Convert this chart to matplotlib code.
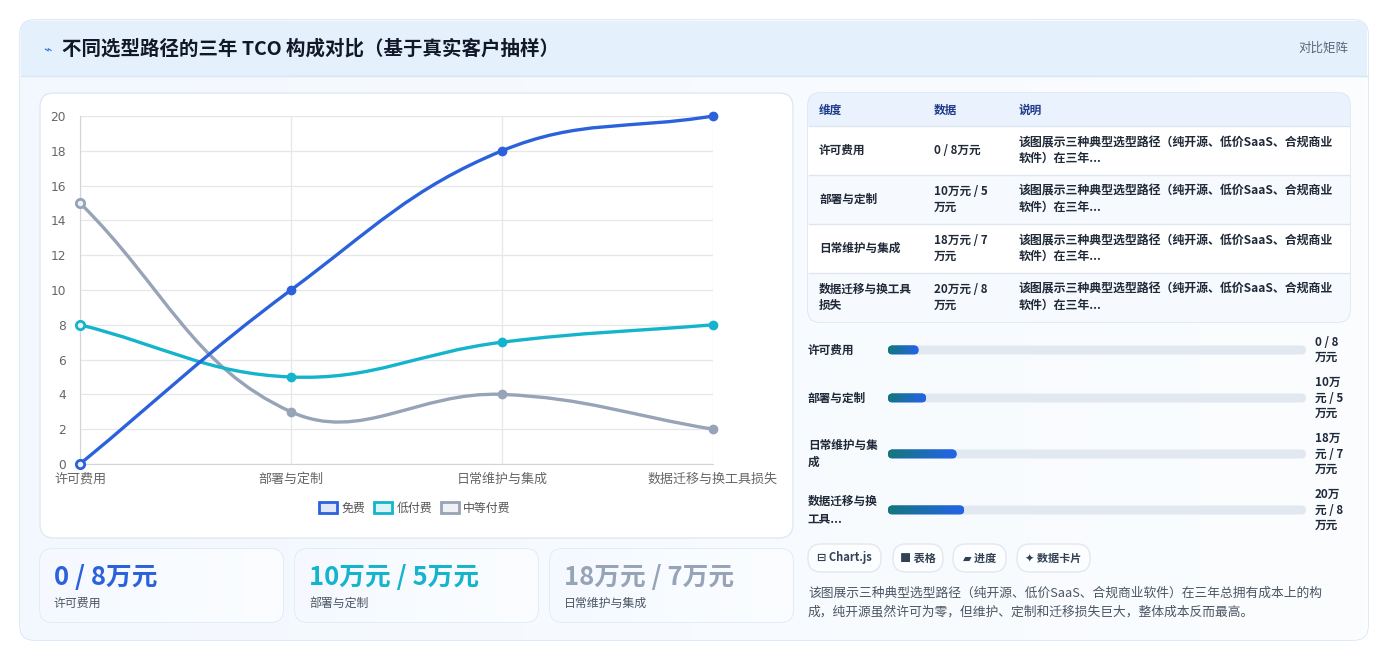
import matplotlib
matplotlib.use("Agg")
import matplotlib.pyplot as plt
import numpy as np
from matplotlib.patches import FancyBboxPatch, Rectangle, Patch
from matplotlib.path import Path
from matplotlib.patches import PathPatch

plt.rcParams['font.family'] = ['Noto Sans CJK SC', 'DejaVu Sans']

# ---- data ----
categories = ['许可费用', '部署与定制', '日常维护与集成', '数据迁移与换工具损失']
free = [0, 10, 18, 20]
low_paid = [8, 5, 7, 8]
mid_paid = [15, 3, 4, 2]
series_names = ['免费', '低付费', '中等付费']

title = '不同选型路径的三年 TCO 构成对比（基于真实客户抽样）'
card_values = ['0 / 8万元', '10万元 / 5万元', '18万元 / 7万元']
card_labels = ['许可费用', '部署与定制', '日常维护与集成']

table_dims = ['许可费用', '部署与定制', '日常维护与集成', '数据迁移与换工具\n损失']
table_data = ['0 / 8万元', '10万元 / 5\n万元', '18万元 / 7\n万元', '20万元 / 8\n万元']
table_note = '该图展示三种典型选型路径（纯开源、低价SaaS、合规商业\n软件）在三年...'

progress_labels = ['许可费用', '部署与定制', '日常维护与集\n成', '数据迁移与换\n工具...']
progress_pct = [7.3, 9.1, 16.4, 18.2]
progress_text = ['0 / 8\n万元', '10万\n元 / 5\n万元', '18万\n元 / 7\n万元', '20万\n元 / 8\n万元']

buttons = ['⊟ Chart.js', '■ 表格', '▰ 进度', '✦ 数据卡片']
summary = ('该图展示三种典型选型路径（纯开源、低价SaaS、合规商业软件）在三年总拥有成本上的构\n'
           '成，纯开源虽然许可为零，但维护、定制和迁移损失巨大，整体成本反而最高。')

BLUE = '#2b62dc'
CYAN = '#14b4cc'
GRAY = '#97a3b6'
colors = [BLUE, CYAN, GRAY]

W, H = 1390, 663
fig = plt.figure(figsize=(W / 100, H / 100), dpi=100)
fig.patch.set_facecolor('white')
bg = fig.add_axes([0, 0, 1, 1])
bg.set_xlim(0, W)
bg.set_ylim(H, 0)
bg.axis('off')


def rbox(x0, y0, x1, y1, r, fc, ec='none', lw=1.0, z=1):
    p = FancyBboxPatch((x0 + r, y0 + r), x1 - x0 - 2 * r, y1 - y0 - 2 * r,
                       boxstyle='round,pad=%g' % r, fc=fc, ec=ec, lw=lw, zorder=z)
    bg.add_patch(p)
    return p


def hgrad(patch, x0, y0, x1, y1, c0, c1, z=1):
    c0 = np.array(matplotlib.colors.to_rgb(c0))
    c1 = np.array(matplotlib.colors.to_rgb(c1))
    t = np.linspace(0, 1, 256)[None, :, None]
    img = c0 + (c1 - c0) * t
    im = bg.imshow(img, extent=(x0, x1, y1, y0), aspect='auto', zorder=z)
    im.set_clip_path(patch)


# outer card
card = rbox(20, 20, 1368, 640, 14, '#f6faff', '#cfe3f5', 1.0, z=1)
hgrad(card, 20, 20, 1368, 640, '#f3f8fe', '#fbfdff', z=1.1)
# header band
hdr = Rectangle((21, 21), 1346, 55, fc='#e4f0fc', ec='none', zorder=1.2)
bg.add_patch(hdr)
hdr.set_clip_path(card)
bg.plot([21, 1367], [76, 76], color='#d6e6f5', lw=1, zorder=1.3)
bg.text(47, 49, '⌁', fontsize=10, color='#3b6fe0', ha='center', va='center', zorder=3)
bg.text(62, 49, title, fontsize=14, fontweight='bold', color='#111827',
        ha='left', va='center', zorder=3)
bg.text(1348, 48, '对比矩阵', fontsize=9, color='#5b6678', ha='right', va='center', zorder=3)

# chart panel
rbox(40, 93, 793, 538, 14, 'white', '#dfe9f3', 1.0, z=2)

# stat cards
card_x = [(40, 283), (295, 538), (550, 793)]
for (x0, x1), v, lab, c in zip(card_x, card_values, card_labels, colors):
    p = rbox(x0, 549, x1, 622, 12, '#f8fbff', '#dbe7f3', 1.0, z=2)
    hgrad(p, x0, 549, x1, 622, '#f5f9ff', '#fbfdff', z=2.1)
    bg.text(x0 + 14, 577, v, fontsize=18.5, fontweight='bold', color=c,
            ha='left', va='center', zorder=3)
    bg.text(x0 + 14, 603, lab, fontsize=8.6, color='#4b5563', ha='left', va='center', zorder=3)

# table
tb = rbox(808, 93, 1350, 322, 12, 'white', '#d8e3ee', 1.0, z=2)
row_edges = [93, 126, 175, 224, 273, 322]
row_fc = ['#eaf3fd', '#ffffff', '#f6f9fd', '#ffffff', '#f6f9fd']
for i in range(5):
    r = Rectangle((808, row_edges[i]), 542, row_edges[i + 1] - row_edges[i],
                  fc=row_fc[i], ec='none', zorder=2.1)
    bg.add_patch(r)
    r.set_clip_path(tb)
    if i > 0:
        bg.plot([809, 1349], [row_edges[i], row_edges[i]], color='#dde5ee', lw=0.9, zorder=2.2)
for x, t in zip([819, 934, 1019], ['维度', '数据', '说明']):
    bg.text(x, 110, t, fontsize=8.4, fontweight='bold', color='#1e3a8a', ha='left', va='center', zorder=3)
for i in range(4):
    yc = (row_edges[i + 1] + row_edges[i + 2]) / 2
    bg.text(819, yc, table_dims[i], fontsize=8.4, fontweight='bold', color='#1f2937',
            ha='left', va='center', linespacing=1.3, zorder=3)
    bg.text(934, yc, table_data[i], fontsize=8.4, fontweight='bold', color='#1f2937',
            ha='left', va='center', linespacing=1.3, zorder=3)
    bg.text(1019, yc, table_note, fontsize=8.6, fontweight='bold', color='#1f2937',
            ha='left', va='center', linespacing=1.3, zorder=3)

# progress bars
bar_y = [350, 398, 454, 510]
bx0, bx1, bh = 888, 1306, 9
for yc, lab, pct, txt in zip(bar_y, progress_labels, progress_pct, progress_text):
    bg.text(808, yc, lab, fontsize=8.4, fontweight='bold', color='#1f2937',
            ha='left', va='center', linespacing=1.4, zorder=3)
    rbox(bx0, yc - bh / 2, bx1, yc + bh / 2, bh / 2, '#e2e8f0', z=2)
    fx1 = bx0 + (bx1 - bx0) * pct / 100
    fp = rbox(bx0, yc - bh / 2, fx1, yc + bh / 2, bh / 2, BLUE, z=2.2)
    hgrad(fp, bx0, yc - bh / 2, fx1, yc + bh / 2, '#13787a', '#2563eb', z=2.3)
    bg.text(1315, yc, txt, fontsize=8.4, fontweight='bold', color='#1e293b',
            ha='left', va='center', linespacing=1.25, zorder=3)

# pill buttons
pill_x = [(808, 881), (893, 943), (953, 1006), (1017, 1090)]
for (x0, x1), t in zip(pill_x, buttons):
    rbox(x0, 544, x1, 572, 13, '#fbfdff', '#e2e8f0', 1.0, z=2)
    bg.text((x0 + x1) / 2, 558, t, fontsize=8, fontweight='bold', color='#334155',
            ha='center', va='center', zorder=3)

bg.text(808, 603, summary, fontsize=9.2, color='#4b5563', ha='left', va='center',
        linespacing=1.6, zorder=3)

# ---- line chart ----
ax_l, ax_r, ax_t, ax_b = 80, 713, 116, 464
ax = fig.add_axes([ax_l / W, (H - ax_b) / H, (ax_r - ax_l) / W, (ax_b - ax_t) / H])
ax.set_facecolor('none')
ax.set_zorder(5)
ax.set_xlim(0, 3)
ax.set_ylim(0, 20)
sx = (ax_r - ax_l) / 3.0
sy = (ax_b - ax_t) / 20.0


def spline_path(xs, ys, tension=0.4):
    xs = np.asarray(xs, float)
    ys = np.asarray(ys, float)
    n = len(xs)
    cprev, cnext = [], []
    for i in range(n):
        p = max(i - 1, 0)
        q = min(i + 1, n - 1)
        d01 = np.hypot((xs[i] - xs[p]) * sx, (ys[i] - ys[p]) * sy)
        d12 = np.hypot((xs[q] - xs[i]) * sx, (ys[q] - ys[i]) * sy)
        tot = d01 + d12
        s01 = d01 / tot if tot else 0
        s12 = d12 / tot if tot else 0
        fa, fb = tension * s01, tension * s12
        cprev.append((xs[i] - fa * (xs[q] - xs[p]), ys[i] - fa * (ys[q] - ys[p])))
        cnext.append((xs[i] + fb * (xs[q] - xs[p]), ys[i] + fb * (ys[q] - ys[p])))
    verts = [(xs[0], ys[0])]
    codes = [Path.MOVETO]
    for i in range(n - 1):
        verts += [cnext[i], cprev[i + 1], (xs[i + 1], ys[i + 1])]
        codes += [Path.CURVE4] * 3
    return Path(verts, codes)


xpos = np.arange(len(categories))
for vals, c in zip([mid_paid, low_paid, free], [GRAY, CYAN, BLUE]):
    ax.add_patch(PathPatch(spline_path(xpos, vals), fc='none', ec=c, lw=2.4,
                           zorder=3, clip_on=False, capstyle='round'))
    ax.plot(xpos[1:], vals[1:], 'o', ms=6, color=c, zorder=4, clip_on=False)
    ax.plot(xpos[:1], vals[:1], 'o', ms=6, mfc='#eef3fb', mec=c, mew=2, zorder=4, clip_on=False)

ax.set_xticks(xpos)
ax.set_xticklabels(categories, fontsize=9.4, color='#666666')
ax.set_yticks(np.arange(0, 21, 2))
ax.tick_params(axis='y', labelsize=8.8, colors='#666666', length=0, pad=10)
ax.tick_params(axis='x', length=0, pad=6)
for lbl in ax.get_yticklabels():
    lbl.set_fontfamily(['DejaVu Sans'])
ax.grid(True, color='#e5e7eb', lw=0.9)
ax.set_axisbelow(True)
for s in ['top', 'right']:
    ax.spines[s].set_visible(False)
ax.spines['left'].set_color('#d1d5db')
ax.spines['bottom'].set_color('#d1d5db')

handles = [Patch(fc=matplotlib.colors.to_rgba(c, 0.15), ec=c, lw=2) for c in colors]
fig.legend(handles, series_names, loc='center', bbox_to_anchor=(415 / W, 1 - 508 / H),
           ncol=3, frameon=False, fontsize=8.6, handlelength=1.5, handleheight=1.0,
           handletextpad=0.4, columnspacing=0.7, labelcolor='#555555')

fig.savefig('out.png', dpi=100, facecolor=fig.get_facecolor())
